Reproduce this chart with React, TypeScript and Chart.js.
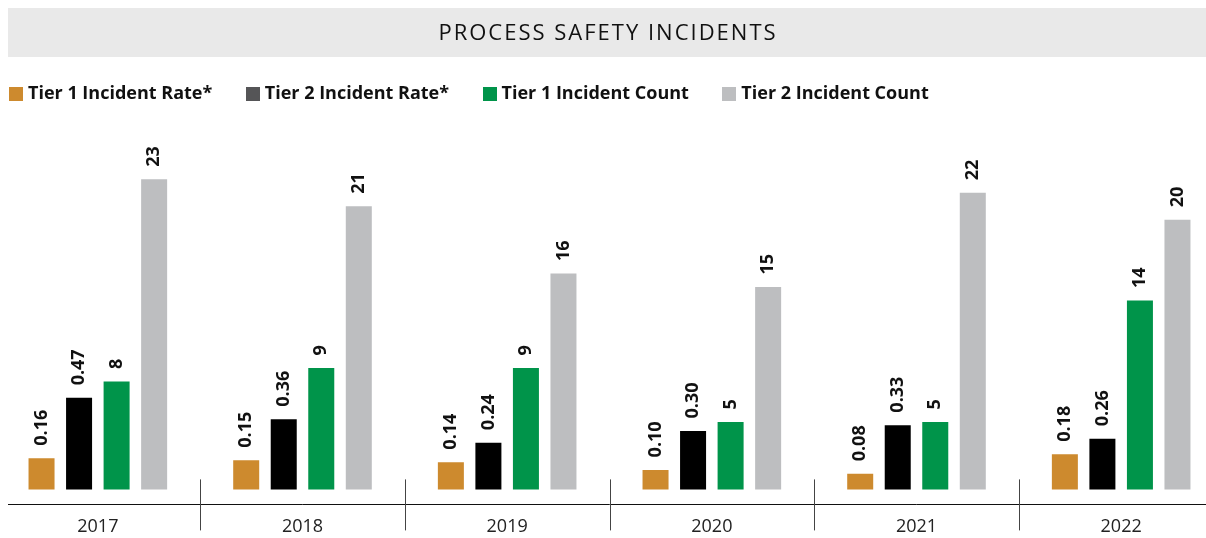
import React, { useEffect, useRef } from 'react';
import { Chart, registerables } from 'chart.js';

Chart.register(...registerables);

const years = ['2017', '2018', '2019', '2020', '2021', '2022'];
const tier1Rate = [0.16, 0.15, 0.14, 0.10, 0.08, 0.18];
const tier2Rate = [0.47, 0.36, 0.24, 0.30, 0.33, 0.26];
const tier1Count = [8, 9, 9, 5, 5, 14];
const tier2Count = [23, 21, 16, 15, 22, 20];
const seriesNames = ['Tier 1 Incident Rate*', 'Tier 2 Incident Rate*', 'Tier 1 Incident Count', 'Tier 2 Incident Count'];
const barColors = ['#CD8A2E', '#000000', '#00944A', '#BDBEC0'];
const legendColors = ['#CD8A2E', '#555557', '#00944A', '#BDBEC0'];
const titleText = 'PROCESS SAFETY INCIDENTS';

const FONT = "'Open Sans', sans-serif";

function swatch(color: string) {
  const c = document.createElement('canvas');
  c.width = 14;
  c.height = 14;
  const g = c.getContext('2d') as CanvasRenderingContext2D;
  g.fillStyle = color;
  g.fillRect(0, 0, 14, 14);
  return c;
}

const titleBand = {
  id: 'titleBand',
  beforeDraw(chart: any) {
    const { ctx } = chart;
    ctx.save();
    ctx.fillStyle = '#E9E9E9';
    ctx.fillRect(0, 0, chart.width, 49);
    ctx.fillStyle = '#111111';
    ctx.font = `22px ${FONT}`;
    ctx.textAlign = 'center';
    ctx.textBaseline = 'middle';
    (ctx as any).letterSpacing = '2px';
    ctx.fillText(titleText, chart.width / 2 + 1, 25.5);
    ctx.restore();
  },
};

const legendFullWidth = {
  id: 'legendFullWidth',
  afterLayout(chart: any) {
    const lg = chart.legend;
    if (lg) {
      lg.left = -1.5;
      lg.right = chart.width;
    }
  },
};

const separators = {
  id: 'separators',
  afterDraw(chart: any) {
    const { ctx, chartArea } = chart;
    const xs = chart.scales.x;
    const n = years.length;
    ctx.save();
    ctx.strokeStyle = '#444444';
    ctx.lineWidth = 1;
    for (let i = 1; i < n; i++) {
      const x = Math.round((xs.getPixelForValue(i - 1) + xs.getPixelForValue(i)) / 2) + 0.5;
      ctx.beginPath();
      ctx.moveTo(x, chartArea.bottom - 25);
      ctx.lineTo(x, chartArea.bottom + 26);
      ctx.stroke();
    }
    ctx.restore();
  },
};

const valueLabels = {
  id: 'valueLabels',
  afterDatasetsDraw(chart: any) {
    const { ctx } = chart;
    ctx.save();
    ctx.font = `bold 18px ${FONT}`;
    ctx.fillStyle = '#111111';
    ctx.textAlign = 'left';
    ctx.textBaseline = 'middle';
    chart.data.datasets.forEach((ds: any, di: number) => {
      const meta = chart.getDatasetMeta(di);
      meta.data.forEach((bar: any, i: number) => {
        const v = ds.data[i];
        const txt = di < 2 ? v.toFixed(2) : String(v);
        ctx.save();
        ctx.translate(bar.x, bar.y - 12.5);
        ctx.rotate(-Math.PI / 2);
        ctx.fillText(txt, 0, 0);
        ctx.restore();
      });
    });
    ctx.restore();
  },
};

export default function App() {
  const ref = useRef<HTMLCanvasElement | null>(null);

  useEffect(() => {
    if (!ref.current) return;
    Chart.defaults.font.family = FONT;
    const series = [tier1Rate, tier2Rate, tier1Count, tier2Count];
    const swatches = legendColors.map(swatch);
    const chart = new Chart(ref.current, {
      type: 'bar',
      data: {
        labels: years,
        datasets: series.map((d, i) => ({
          label: seriesNames[i],
          data: d,
          backgroundColor: barColors[i],
          borderWidth: 0,
          yAxisID: i < 2 ? 'yRate' : 'yCount',
          categoryPercentage: 0.7335,
          barPercentage: 0.693,
        })),
      },
      options: {
        responsive: false,
        animation: false,
        events: [],
        layout: { padding: { left: 18.5, right: 13.5, top: 39.5, bottom: 0 } },
        plugins: {
          title: { display: false },
          legend: {
            display: true,
            position: 'top',
            align: 'start',
            labels: {
              usePointStyle: true,
              pointStyleWidth: 6,
              boxHeight: 14,
              padding: 37.5,
              color: '#111111',
              font: { size: 18, weight: 'bold', family: FONT },
              generateLabels: (c: any) => {
                const items = Chart.defaults.plugins.legend.labels.generateLabels(c);
                return items.map((it: any, i: number) => ({
                  ...it,
                  fillStyle: legendColors[i],
                  strokeStyle: legendColors[i],
                  lineWidth: 0,
                  pointStyle: swatches[i],
                }));
              },
            },
          },
          tooltip: { enabled: false },
        },
        scales: {
          x: {
            type: 'category',
            offset: true,
            grid: { display: false, drawTicks: false, offset: true },
            border: { display: true, color: '#111111', width: 1 },
            ticks: {
              color: '#222222',
              padding: 12,
              font: { size: 18, family: FONT },
            },
          },
          yRate: {
            type: 'linear',
            display: false,
            min: -0.0771,
            max: 1.933,
          },
          yCount: {
            type: 'linear',
            display: false,
            min: -1.114,
            max: 27.91,
          },
        },
      } as any,
      plugins: [titleBand, legendFullWidth, separators, valueLabels],
    });
    return () => chart.destroy();
  }, []);

  return (
    <div style={{ position: 'absolute', left: 8, top: 0, width: 1198, height: 538, overflow: 'hidden' }}>
      <canvas
        ref={ref}
        width={1260}
        height={542}
        style={{ position: 'absolute', left: -31, top: 8, width: 1260, height: 542 }}
      />
    </div>
  );
}
